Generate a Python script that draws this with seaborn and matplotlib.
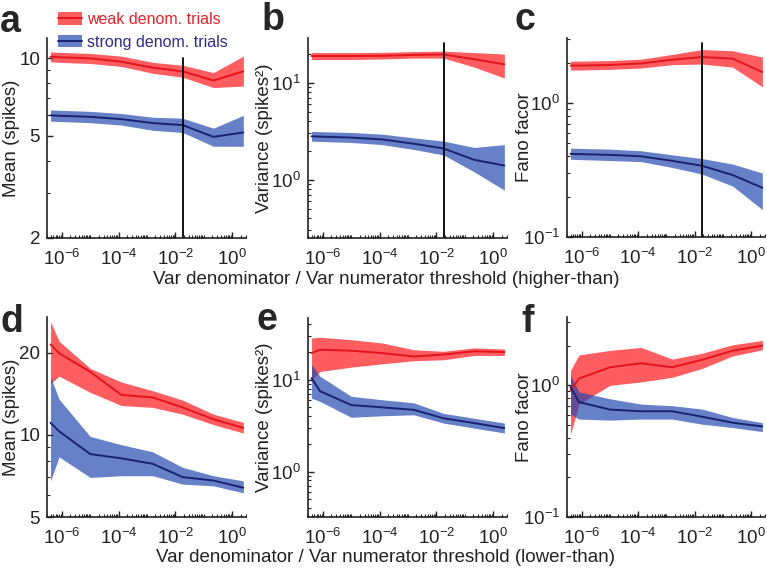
import matplotlib
matplotlib.use("Agg")
import numpy as np
import pandas as pd
import matplotlib.pyplot as plt
import matplotlib.ticker as mticker
from matplotlib.patches import Patch
from matplotlib.lines import Line2D
import seaborn as sns

# thresholds (x axis, shared by all panels)
thresholds = [4e-7, 8e-7, 1e-5, 1.25e-4, 1.6e-3, 1.8e-2, 2.2e-1, 2.5]
chosen_threshold = 1.8e-2

# a: mean, higher-than
a_weak = [10.15, 10.1, 10.0, 9.7, 9.2, 8.9, 8.2, 8.9]
a_weak_lo = [9.7, 9.65, 9.55, 9.3, 8.75, 8.45, 7.7, 7.8]
a_weak_hi = [10.6, 10.55, 10.45, 10.2, 9.65, 9.4, 8.8, 10.2]
a_strong = [6.0, 5.98, 5.92, 5.8, 5.6, 5.5, 4.95, 5.15]
a_strong_lo = [5.7, 5.68, 5.62, 5.5, 5.25, 5.15, 4.55, 4.55]
a_strong_hi = [6.3, 6.28, 6.22, 6.1, 5.9, 5.85, 5.35, 6.0]

# b: variance, higher-than
b_weak = [18.9, 18.9, 18.9, 19.0, 19.4, 19.6, 17.5, 15.5]
b_weak_lo = [17.4, 17.4, 17.4, 17.6, 18.0, 18.0, 14.5, 11.2]
b_weak_hi = [20.5, 20.5, 20.5, 20.6, 21.0, 21.2, 20.5, 19.8]
b_strong = [2.8, 2.78, 2.72, 2.6, 2.35, 2.1, 1.6, 1.4]
b_strong_lo = [2.5, 2.48, 2.42, 2.3, 2.05, 1.8, 1.2, 0.78]
b_strong_hi = [3.15, 3.13, 3.07, 2.95, 2.7, 2.5, 2.15, 2.3]

# c: fano factor, higher-than
c_weak = [1.9, 1.9, 1.92, 1.97, 2.1, 2.2, 2.14, 1.7]
c_weak_lo = [1.76, 1.76, 1.78, 1.82, 1.93, 1.95, 1.85, 1.32]
c_weak_hi = [2.05, 2.05, 2.07, 2.12, 2.3, 2.5, 2.45, 2.2]
c_strong = [0.417, 0.415, 0.41, 0.40, 0.37, 0.34, 0.29, 0.233]
c_strong_lo = [0.38, 0.378, 0.372, 0.365, 0.33, 0.295, 0.24, 0.16]
c_strong_hi = [0.46, 0.458, 0.452, 0.44, 0.41, 0.385, 0.35, 0.30]

# d: mean, lower-than
d_weak = [21.4, 19.9, 17.0, 14.0, 13.7, 12.6, 11.4, 10.6]
d_weak_lo = [15.4, 16.4, 14.3, 12.8, 12.6, 11.9, 10.9, 10.15]
d_weak_hi = [25.9, 22.0, 17.5, 15.6, 14.5, 13.4, 11.9, 11.1]
d_strong = [11.06, 10.3, 8.5, 8.2, 7.83, 7.0, 6.8, 6.4]
d_strong_lo = [6.78, 8.3, 6.98, 7.08, 7.08, 6.6, 6.5, 6.13]
d_strong_hi = [16.3, 13.5, 9.86, 9.2, 8.66, 7.6, 7.08, 6.78]

# e: variance, lower-than
e_weak = [19.5, 21.2, 20.7, 19.5, 17.9, 18.8, 20.4, 20.0]
e_weak_lo = [10.0, 12.3, 13.7, 14.9, 16.1, 16.5, 18.4, 18.4]
e_weak_hi = [28.5, 29.0, 27.3, 25.1, 21.2, 20.4, 22.2, 21.6]
e_strong = [10.4, 7.5, 5.3, 5.0, 4.7, 3.8, 3.37, 2.97]
e_strong_lo = [6.3, 5.8, 3.9, 4.05, 4.15, 3.37, 2.97, 2.63]
e_strong_hi = [14.6, 10.9, 6.6, 6.05, 5.6, 4.3, 3.8, 3.37]

# f: fano factor, lower-than
f_weak = [0.915, 1.125, 1.37, 1.47, 1.37, 1.56, 1.83, 2.0]
f_weak_lo = [0.425, 0.72, 1.0, 1.06, 1.15, 1.34, 1.67, 1.86]
f_weak_hi = [1.30, 1.70, 1.84, 1.94, 1.58, 1.75, 2.03, 2.19]
f_strong = [0.97, 0.745, 0.654, 0.635, 0.635, 0.578, 0.52, 0.487]
f_strong_lo = [0.605, 0.554, 0.544, 0.554, 0.554, 0.507, 0.478, 0.445]
f_strong_hi = [1.19, 0.89, 0.79, 0.72, 0.70, 0.66, 0.57, 0.52]

groups = ["weak denom. trials", "strong denom. trials"]
line_colors = {"weak denom. trials": "#e3141c", "strong denom. trials": "#1a2371"}
band_colors = {"weak denom. trials": "#ff1e22", "strong denom. trials": "#1f45b0"}
band_alpha = {"weak denom. trials": 0.72, "strong denom. trials": 0.68}

sns.set_style("ticks")
plt.rcParams["font.family"] = ["Liberation Sans", "DejaVu Sans"]
plt.rcParams["mathtext.fontset"] = "custom"
plt.rcParams["mathtext.rm"] = "Liberation Sans"
plt.rcParams["mathtext.it"] = "Liberation Sans"
plt.rcParams["mathtext.bf"] = "Liberation Sans:bold"

panels = [
    # letter, rect (px), series, ylim, yticks, ylabel, vline top
    ("a", [47, 38, 199, 200], (a_weak, a_weak_lo, a_weak_hi, a_strong, a_strong_lo, a_strong_hi),
     (2, 12), [2, 5, 10], "Mean (spikes)", 0.9),
    ("b", [308, 38, 199, 200], (b_weak, b_weak_lo, b_weak_hi, b_strong, b_strong_lo, b_strong_hi),
     (0.25, 29), [1, 10], "Variance (spikes²)", 0.975),
    ("c", [567, 38, 198, 199], (c_weak, c_weak_lo, c_weak_hi, c_strong, c_strong_lo, c_strong_hi),
     (0.1, 3.05), [0.1, 1], "Fano facor", 0.975),
    ("d", [47, 317, 199, 200], (d_weak, d_weak_lo, d_weak_hi, d_strong, d_strong_lo, d_strong_hi),
     (5, 27), [5, 10, 20], "Mean (spikes)", None),
    ("e", [308, 318, 199, 199], (e_weak, e_weak_lo, e_weak_hi, e_strong, e_strong_lo, e_strong_hi),
     (0.32, 47), [1, 10], "Variance (spikes²)", None),
    ("f", [567, 317, 198, 200], (f_weak, f_weak_lo, f_weak_hi, f_strong, f_strong_lo, f_strong_hi),
     (0.1, 3.3), [0.1, 1], "Fano facor", None),
]
letter_pos = {"a": (0, 32), "b": (262, 30), "c": (514, 30), "d": (0, 332), "e": (256, 330), "f": (521, 332)}
ylabel_x = {"a": -0.136, "b": -0.176, "c": -0.172, "d": -0.136, "e": -0.176, "f": -0.172}

W, H = 767, 570
fig = plt.figure(figsize=(W / 100, H / 100), dpi=100)

for letter, (x0, y0, w, h), series, ylim, yticks, ylabel, vtop in panels:
    ax = fig.add_axes([x0 / W, 1 - (y0 + h) / H, w / W, h / H])
    ax.set_xscale("log")
    ax.set_yscale("log")
    weak, weak_lo, weak_hi, strong, strong_lo, strong_hi = series

    df = pd.DataFrame({
        "threshold": thresholds * 2,
        "value": weak + strong,
        "group": [groups[0]] * len(thresholds) + [groups[1]] * len(thresholds),
    })
    for g, lo, hi in [(groups[0], weak_lo, weak_hi), (groups[1], strong_lo, strong_hi)]:
        ax.fill_between(thresholds, lo, hi, color=band_colors[g], alpha=band_alpha[g], lw=0)
    sns.lineplot(data=df, x="threshold", y="value", hue="group", palette=line_colors,
                 ax=ax, legend=False, lw=1.4)

    if vtop is not None:
        ax.axvline(chosen_threshold, ymin=0, ymax=vtop, color="black", lw=1.3)

    ax.set_xlim(3e-7, 3.1)
    ax.set_ylim(*ylim)
    ax.set_xticks([1e-6, 1e-4, 1e-2, 1])
    ax.xaxis.set_minor_locator(mticker.LogLocator(base=10, subs=np.arange(1, 10), numticks=50))
    ax.xaxis.set_minor_formatter(mticker.NullFormatter())
    ax.set_yticks(yticks)
    if letter in ("a", "d"):
        ax.set_yticklabels([str(t) for t in yticks])
    ax.yaxis.set_minor_locator(mticker.LogLocator(base=10, subs=np.arange(1, 10), numticks=50))
    ax.yaxis.set_minor_formatter(mticker.NullFormatter())

    ax.tick_params(which="major", direction="in", length=4, width=1, labelsize=13.5,
                   colors="#222222", pad=5)
    ax.tick_params(axis="x", which="major", pad=8)
    ax.tick_params(which="minor", direction="in", length=2, width=0.8, colors="#222222")
    sns.despine(ax=ax)
    for s in ("left", "bottom"):
        ax.spines[s].set_color("#222222")
        ax.spines[s].set_linewidth(1.2)

    ax.set_xlabel("")
    ax.set_ylabel(ylabel, fontsize=13.5, color="#222222")
    ax.yaxis.set_label_coords(ylabel_x[letter], 0.5)

    lx, ly = letter_pos[letter]
    fig.text(lx / W, 1 - ly / H, letter, fontsize=27, fontweight="bold", ha="left", va="baseline")

fig.text(0.503, 1 - 280 / H, "Var denominator / Var numerator threshold (higher-than)",
         fontsize=13.5, ha="center", va="center", color="#222222")
fig.text(0.503, 1 - 558 / H, "Var denominator / Var numerator threshold (lower-than)",
         fontsize=13.5, ha="center", va="center", color="#222222")

handles = [
    (Patch(facecolor=band_colors[g], alpha=band_alpha[g], lw=0), Line2D([], [], color=line_colors[g], lw=1.4))
    for g in groups
]
leg = fig.legend(handles, groups, loc="upper left", bbox_to_anchor=(52 / W, 1 - 6 / H),
                 frameon=False, fontsize=11.5, handlelength=1.45, handleheight=0.85,
                 handletextpad=0.35, labelspacing=0.45, borderaxespad=0)
leg.get_texts()[0].set_color("#e3232b")
leg.get_texts()[1].set_color("#2b2b8a")

fig.savefig("out.png", dpi=100)
